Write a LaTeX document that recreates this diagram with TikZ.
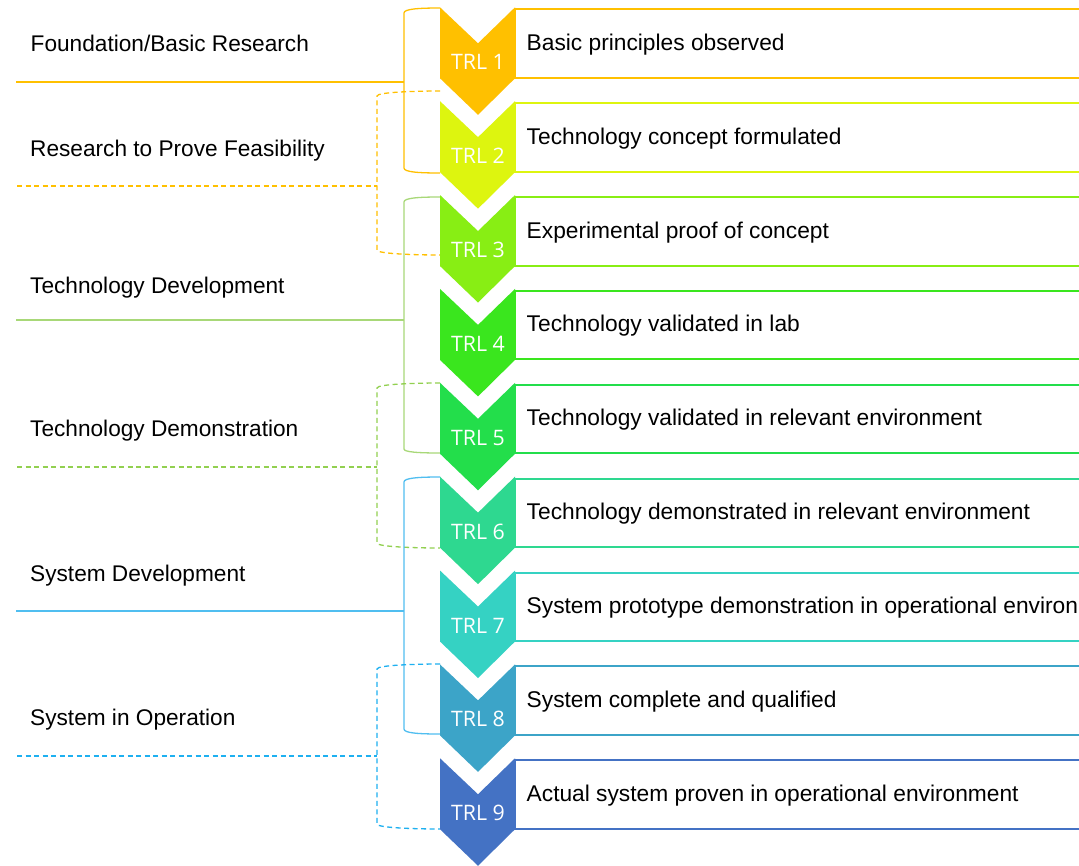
\documentclass[tikz,border=0pt]{standalone}
\usepackage{fontspec}
\setmainfont{Liberation Sans}
\newfontfamily\trlfont{Open Sans}
\definecolor{c1}{RGB}{255,192,0}
\definecolor{c2}{RGB}{221,245,15}
\definecolor{c3}{RGB}{136,238,20}
\definecolor{c4}{RGB}{58,230,30}
\definecolor{c5}{RGB}{35,222,75}
\definecolor{c6}{RGB}{46,216,144}
\definecolor{c7}{RGB}{53,210,195}
\definecolor{c8}{RGB}{60,164,200}
\definecolor{c9}{RGB}{68,114,196}
\definecolor{borange}{RGB}{255,192,0}
\definecolor{bgreen}{RGB}{168,216,120}
\definecolor{bgreend}{RGB}{146,208,80}
\definecolor{bblue}{RGB}{80,190,240}
\definecolor{bblued}{RGB}{30,176,240}
\begin{document}
\begin{tikzpicture}[x=1pt,y=-1pt,
  trl/.style={text=white,font=\trlfont\fontsize{21.3}{24}\selectfont,inner sep=0pt,anchor=base},
  desc/.style={font=\fontsize{22.75}{26}\selectfont,inner sep=0pt,anchor=base west,text=black},
  lbl/.style={font=\fontsize{22.65}{26}\selectfont,inner sep=0pt,anchor=base west,text=black},
  brk/.style={line width=1.3pt},
  brkd/.style={line width=1.3pt,dash pattern=on 5pt off 3.5pt}]
\useasboundingbox (0,0) rectangle (1079,865);
\clip (0,0) rectangle (1079,865);
\fill[white] (0,0) rectangle (1079,865);
% brackets
\draw[brk,borange] (440,8) .. controls (418,8) and (404,9) .. (404,13) -- (404,168) .. controls (404,172) and (418,173) .. (440,173);
\draw[brk,borange] (16,82) -- (404,82);
\draw[brkd,borange] (440,91) .. controls (418,91) and (377,92) .. (377,96) -- (377,250) .. controls (377,254) and (418,255) .. (440,255);
\draw[brkd,borange] (17,186) -- (377,186);
\draw[brk,bgreen] (440,197) .. controls (418,197) and (404,198) .. (404,202) -- (404,449) .. controls (404,452) and (418,453) .. (440,453);
\draw[brk,bgreen] (16,320) -- (404,320);
\draw[brkd,bgreend] (440,383) .. controls (418,383) and (377,384) .. (377,388) -- (377,543) .. controls (377,547) and (418,548) .. (440,548);
\draw[brkd,bgreend] (17,467) -- (377,467);
\draw[brk,bblue] (440,477) .. controls (418,477) and (404,478) .. (404,482) -- (404,729) .. controls (404,733) and (418,734) .. (440,734);
\draw[brk,bblue] (16,611) -- (404,611);
\draw[brkd,bblued] (440,664) .. controls (418,664) and (377,665) .. (377,669) -- (377,824) .. controls (377,828) and (418,829) .. (440,829);
\draw[brkd,bblued] (17,756) -- (377,756);
% levels
\foreach \i/\txt in {1/Basic principles observed,2/Technology concept formulated,3/Experimental proof of concept,4/Technology validated in lab,5/Technology validated in relevant environment,6/Technology demonstrated in relevant environment,7/System prototype demonstration in operational environment,8/System complete and qualified,9/Actual system proven in operational environment}{
  \pgfmathsetmacro\ty{7.3+93.87*(\i-1)}
  \draw[line width=2pt,draw=c\i] (515,\ty+2) rectangle (1100,\ty+70.5);
  \fill[c\i] (440,\ty) -- (478,\ty+36) -- (515,\ty) -- (515,\ty+71) -- (478,\ty+107.5) -- (440,\ty+71) -- cycle;
  \node[trl] (trl\i) at (478,\ty+62.5) {TRL \i};
  \node[desc] (d\i) at (526.5,\ty+43) {\txt};
}
% phase labels
\node[lbl] (p1) at (30.5,51.7) {Foundation/Basic Research};
\node[lbl] (p2) at (30,156.7) {Research to Prove Feasibility};
\node[lbl] (p3) at (30,293.3) {Technology Development};
\node[lbl] (p4) at (30,436.7) {Technology Demonstration};
\node[lbl] (p5) at (30,581.7) {System Development};
\node[lbl] (p6) at (30,725.7) {System in Operation};
\end{tikzpicture}
\end{document}
